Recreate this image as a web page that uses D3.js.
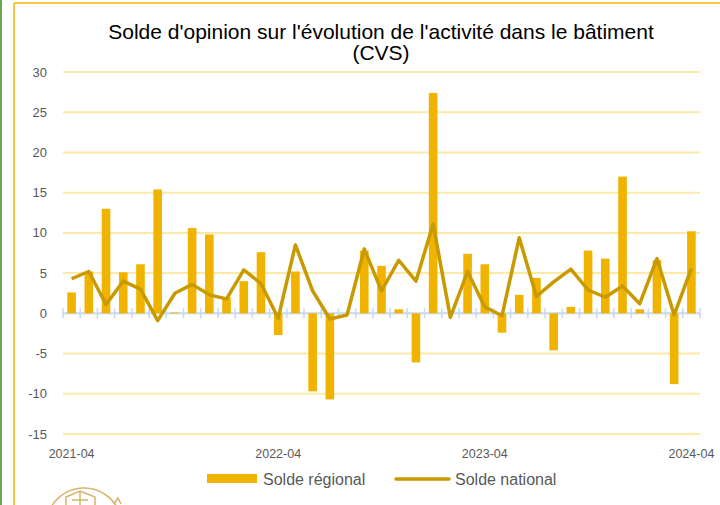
<!DOCTYPE html>
<html>
<head>
<meta charset="utf-8">
<script src="https://cdn.jsdelivr.net/npm/d3@7"></script>
<style>
  body { margin: 0; background: #fff; }
  svg { display: block; font-family: "Liberation Sans", Arial, sans-serif; }
</style>
</head>
<body>
<svg class="container" width="720" height="505"></svg>
<script>
let months = [];
for (let i = 0; i < 37; i++) {
    let yr = 2021 + Math.floor((3 + i) / 12);
    let m = ((3 + i) % 12) + 1;
    months.push(yr + "-" + (m < 10 ? "0" + m : m));
}
let regional = [2.6, 5.2, 13.0, 5.1, 6.1, 15.4, 0.1, 10.6, 9.8, 2.0,
    4.0, 7.6, -2.7, 5.2, -9.7, -10.7, 0, 7.8, 5.9, 0.5,
    -6.1, 27.4, 0, 7.4, 6.1, -2.4, 2.3, 4.4, -4.6, 0.8,
    7.8, 6.8, 17.0, 0.5, 6.6, -8.8, 10.2];
let national = [4.3, 5.2, 1.1, 4.0, 3.0, -0.9, 2.5, 3.6, 2.3, 1.8,
    5.4, 3.7, -0.6, 8.5, 2.8, -0.7, -0.2, 8.0, 2.8, 6.6,
    4.0, 11.1, -0.5, 5.2, 0.8, -0.3, 9.4, 2.1, 3.9, 5.5,
    2.9, 2.0, 3.4, 1.2, 6.8, -0.2, 5.6];
let yTicks = [-15, -10, -5, 0, 5, 10, 15, 20, 25, 30];
let xLabels = ["2021-04", "2022-04", "2023-04", "2024-04"];
let seriesNames = ["Solde régional", "Solde national"];

let barColor = "#f0b400";
let lineColor = "#c99a00";
let plotLeft = 63, plotRight = 700, plotTop = 72, plotBottom = 434;

let svg = d3.select(".container");

let x = d3.scaleBand().domain(months).range([plotLeft, plotRight])
    .paddingInner(0.5).paddingOuter(0.25);
let y = d3.scaleLinear().domain([-15, 30]).range([plotBottom, plotTop]);
let step = x.step();

// frame lines
svg.append("line").attr("x1", 1).attr("x2", 1).attr("y1", 0).attr("y2", 505)
    .style("stroke", "#6aa84f").style("stroke-width", 2);
svg.append("line").attr("x1", 14).attr("x2", 14).attr("y1", 3).attr("y2", 505)
    .style("stroke", barColor).style("stroke-width", 1.5);
svg.append("line").attr("x1", 14).attr("x2", 720).attr("y1", 3).attr("y2", 3)
    .style("stroke", barColor).style("stroke-width", 1.5);

// title
svg.append("text").attr("x", 381).attr("y", 39).attr("text-anchor", "middle")
    .style("font-size", "21px").style("fill", "#000")
    .text("Solde d'opinion sur l'évolution de l'activité dans le bâtiment");
svg.append("text").attr("x", 381).attr("y", 60).attr("text-anchor", "middle")
    .style("font-size", "21px").style("fill", "#000")
    .text("(CVS)");

// grid
svg.selectAll(".grid").data(yTicks.filter(d => d != 0)).enter()
    .append("line").attr("class", "grid")
    .attr("x1", plotLeft).attr("x2", plotRight)
    .attr("y1", d => y(d)).attr("y2", d => y(d))
    .style("stroke", "#fde9a8").style("stroke-width", 2);

// y labels
svg.selectAll(".ylab").data(yTicks).enter()
    .append("text").attr("class", "ylab")
    .attr("x", 47).attr("y", d => y(d) + 4.5)
    .attr("text-anchor", "end")
    .style("font-size", "13px").style("fill", "#595959")
    .text(d => d);

// zero axis with ticks at band boundaries
let boundaries = months.map(m => x(m) - (step - x.bandwidth()) / 2).concat([plotRight]);
svg.append("line").attr("x1", plotLeft).attr("x2", plotRight)
    .attr("y1", y(0)).attr("y2", y(0))
    .style("stroke", "#c6d9f0").style("stroke-width", 2);
svg.selectAll(".xtick").data(boundaries).enter()
    .append("line").attr("class", "xtick")
    .attr("x1", d => d).attr("x2", d => d)
    .attr("y1", y(0) - 5).attr("y2", y(0) + 5)
    .style("stroke", "#c6d9f0").style("stroke-width", 1.5);

// bars
svg.selectAll(".bar").data(regional).enter()
    .append("rect").attr("class", "bar")
    .attr("x", (d, i) => x(months[i]))
    .attr("width", x.bandwidth())
    .attr("y", d => y(Math.max(0, d)))
    .attr("height", d => Math.abs(y(d) - y(0)))
    .style("fill", barColor);

// national line
let line = d3.line().x((d, i) => x(months[i]) + x.bandwidth() / 2).y(d => y(d));
svg.append("path").datum(national).attr("d", line)
    .style("fill", "none").style("stroke", lineColor)
    .style("stroke-width", 3.5).style("stroke-linejoin", "round");

// x labels
svg.selectAll(".xlab").data(xLabels).enter()
    .append("text").attr("class", "xlab")
    .attr("x", d => x(d) + x.bandwidth() / 2).attr("y", 458)
    .attr("text-anchor", "middle")
    .style("font-size", "12.5px").style("fill", "#595959")
    .text(d => d);

// legend
svg.append("rect").attr("x", 207).attr("y", 474).attr("width", 50).attr("height", 9)
    .style("fill", barColor);
svg.append("text").attr("x", 263).attr("y", 485).style("font-size", "16px")
    .style("fill", "#595959").text(seriesNames[0]);
svg.append("line").attr("x1", 396).attr("x2", 449).attr("y1", 479).attr("y2", 479)
    .style("stroke", lineColor).style("stroke-width", 3.5).style("stroke-linecap", "round");
svg.append("text").attr("x", 455).attr("y", 485).style("font-size", "16px")
    .style("fill", "#595959").text(seriesNames[1]);

// logo (partially visible)
let logo = svg.append("g").style("fill", "none").style("stroke", "#d8b26a").style("stroke-width", 1.5);
logo.append("path").attr("d", d3.arc()({innerRadius: 38, outerRadius: 38, startAngle: -1.3, endAngle: 1.2}))
    .attr("transform", "translate(84,526)");
logo.append("path").attr("d", "M66,505 L66,497 L80,491 L95,497 L95,505 M80,491 L80,505 M72,500 L88,500");
logo.append("path").attr("d", "M114,504 l4,-6 l3,6");
</script>
</body>
</html>
